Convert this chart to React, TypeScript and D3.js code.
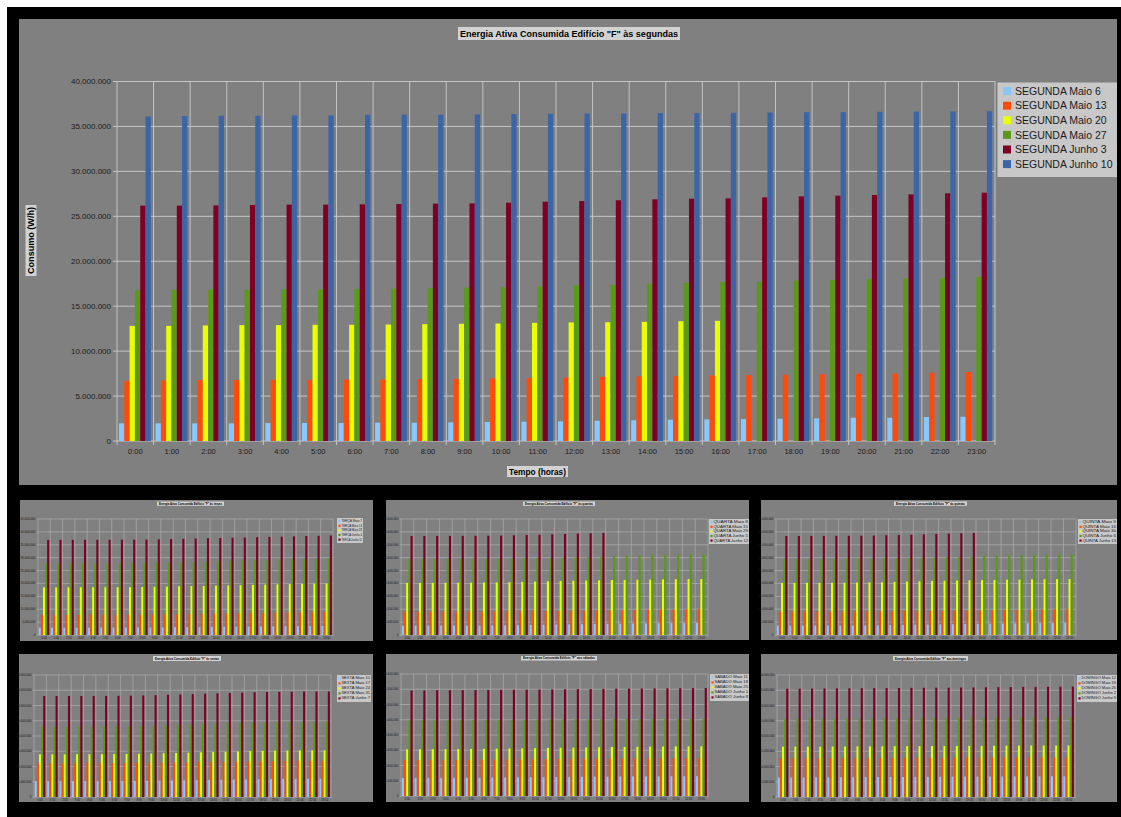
import React from "react";
import * as d3 from "d3";

// ---------- categories ----------
const HOURS = [
  "0:00", "1:00", "2:00", "3:00", "4:00", "5:00", "6:00", "7:00", "8:00", "9:00", "10:00", "11:00",
  "12:00", "13:00", "14:00", "15:00", "16:00", "17:00", "18:00", "19:00", "20:00", "21:00", "22:00", "23:00",
];

// ---------- main chart: Mondays (values in millions of W/h) ----------
const segMaio6 = [1.96, 1.96, 1.96, 1.96, 2.0, 2.0, 2.0, 2.04, 2.04, 2.07, 2.11, 2.15, 2.19, 2.26, 2.3, 2.37, 2.41, 2.44, 2.48, 2.52, 2.59, 2.59, 2.67, 2.7];
const segMaio13 = [6.7, 6.74, 6.78, 6.78, 6.81, 6.81, 6.85, 6.85, 6.89, 6.93, 6.96, 7.0, 7.07, 7.15, 7.19, 7.22, 7.3, 7.33, 7.37, 7.44, 7.48, 7.52, 7.59, 7.67];
const segMaio20 = [12.81, 12.81, 12.85, 12.89, 12.89, 12.93, 12.93, 12.96, 13.0, 13.04, 13.07, 13.15, 13.19, 13.22, 13.26, 13.33, 13.37, null, null, null, null, null, null, null];
const segMaio27 = [16.78, 16.81, 16.85, 16.85, 16.89, 16.89, 16.93, 16.96, 17.0, 17.07, 17.11, 17.19, 17.33, 17.37, 17.52, 17.59, 17.7, 17.74, 17.85, 17.93, 18.0, 18.07, 18.15, 18.26];
const segJunho3 = [26.19, 26.19, 26.22, 26.26, 26.3, 26.3, 26.33, 26.37, 26.41, 26.44, 26.52, 26.63, 26.7, 26.78, 26.89, 26.96, 27.0, 27.11, 27.22, 27.3, 27.37, 27.44, 27.56, 27.63];
const segJunho10 = [36.11, 36.15, 36.19, 36.19, 36.22, 36.22, 36.3, 36.3, 36.3, 36.33, 36.37, 36.41, 36.44, 36.44, 36.48, 36.48, 36.52, 36.56, 36.59, 36.59, 36.63, 36.67, 36.67, 36.7];
const segNames = ["SEGUNDA Maio 6", "SEGUNDA Maio 13", "SEGUNDA Maio 20", "SEGUNDA Maio 27", "SEGUNDA Junho 3", "SEGUNDA Junho 10"];

// ---------- Tuesdays ----------
const terMaio7 = [2.85, 2.85, 2.86, 2.86, 2.87, 2.88, 2.89, 2.9, 2.92, 2.95, 2.99, 3.03, 3.07, 3.11, 3.15, 3.19, 3.23, 3.28, 3.32, 3.36, 3.4, 3.43, 3.46, 3.49];
const terMaio14 = [7.76, 7.77, 7.78, 7.79, 7.8, 7.81, 7.83, 7.85, 7.88, 7.94, 8.01, 8.08, 8.15, 8.22, 8.29, 8.36, 8.44, 8.52, 8.6, 8.67, 8.73, 8.79, 8.84, 8.9];
const terMaio28 = [18.5, 18.51, 18.52, 18.53, 18.54, 18.55, 18.56, 18.58, 18.62, 18.7, 18.79, 18.88, 18.97, 19.06, 19.15, 19.25, 19.35, 19.45, 19.55, 19.65, 19.75, 19.84, 19.92, 20.0];
const terJunho4 = [27.8, 27.81, 27.82, 27.83, 27.84, 27.85, 27.87, 27.9, 27.95, 28.05, 28.17, 28.3, 28.42, 28.55, 28.67, 28.8, 28.93, 29.05, 29.18, 29.3, 29.42, 29.55, 29.67, 29.8];
const terJunho11 = [36.9, 36.91, 36.92, 36.93, 36.94, 36.95, 36.97, 37.0, 37.05, 37.13, 37.23, 37.33, 37.43, 37.53, 37.63, 37.73, 37.83, 37.94, 38.05, 38.16, 38.27, 38.38, 38.49, 38.6];
const terNames = ["TERÇA Maio 7", "TERÇA Maio 14", "TERÇA Maio 28", "TERÇA Junho 4", "TERÇA Junho 11"];

// ---------- Wednesdays ----------
const quaMaio8 = [3.62, 3.63, 3.64, 3.65, 3.66, 3.67, 3.69, 3.72, 3.77, 3.83, 3.9, 3.97, 4.04, 4.11, 4.19, 4.27, 4.33, 4.39, 4.45, 4.5, 4.55, 4.59, 4.63, 4.66];
const quaMaio15 = [9.05, 9.06, 9.07, 9.08, 9.09, 9.1, 9.12, 9.14, 9.17, 9.21, 9.25, 9.29, 9.33, 9.36, 9.39, 9.42, 9.5, 9.6, 9.7, 9.8, 9.88, 9.95, 10.02, 10.09];
const quaMaio29 = [20.2, 20.22, 20.24, 20.26, 20.28, 20.3, 20.34, 20.4, 20.48, 20.6, 20.72, 20.85, 20.98, 21.06, 21.14, 21.22, 21.3, 21.38, 21.45, 21.52, 21.58, 21.63, 21.67, 21.7];
const quaJunho5 = [29.5, 29.52, 29.54, 29.56, 29.58, 29.6, 29.62, 29.65, 29.7, 29.75, 29.8, 29.85, 29.95, 30.1, 30.25, 30.4, 30.7, 30.85, 30.98, 31.08, 31.18, 31.26, 31.33, 31.4];
const quaJunho12 = [38.4, 38.42, 38.44, 38.46, 38.48, 38.5, 38.53, 38.58, 38.66, 38.78, 38.92, 39.06, 39.2, 39.34, 39.47, 39.6, null, null, null, null, null, null, null, null];
const quaNames = ["QUARTA Maio 8", "QUARTA Maio 15", "QUARTA Maio 29", "QUARTA Junho 5", "QUARTA Junho 12"];

// ---------- Thursdays (the picture shows the same bars as Wednesday) ----------
const quiNames = ["QUINTA Maio 9", "QUINTA Maio 16", "QUINTA Maio 30", "QUINTA Junho 6", "QUINTA Junho 13"];

// ---------- Fridays ----------
const sexMaio10 = [5.15, 5.15, 5.16, 5.17, 5.18, 5.19, 5.2, 5.22, 5.26, 5.31, 5.37, 5.43, 5.49, 5.55, 5.61, 5.67, 5.73, 5.78, 5.83, 5.87, 5.91, 5.94, 5.97, 6.0];
const sexMaio17 = [11.07, 11.08, 11.09, 11.1, 11.11, 11.12, 11.13, 11.15, 11.19, 11.25, 11.31, 11.37, 11.43, 11.49, 11.55, 11.61, 11.67, 11.72, 11.77, 11.81, 11.84, 11.87, 11.89, 11.9];
const sexMaio24 = [14.0, 14.01, 14.02, 14.03, 14.04, 14.05, 14.07, 14.1, 14.16, 14.25, 14.35, 14.45, 14.55, 14.65, 14.75, 14.85, 14.95, 15.04, 15.12, 15.18, 15.23, 15.27, 15.29, 15.3];
const sexMaio31 = [23.0, 23.01, 23.02, 23.03, 23.05, 23.07, 23.1, 23.15, 23.24, 23.36, 23.5, 23.64, 23.78, 23.92, 24.06, 24.2, 24.34, 24.46, 24.56, 24.64, 24.7, 24.75, 24.78, 24.8];
const sexJunho7 = [33.1, 33.11, 33.12, 33.13, 33.14, 33.16, 33.19, 33.23, 33.3, 33.4, 33.52, 33.64, 33.76, 33.88, 34.0, 34.12, 34.24, 34.34, 34.42, 34.48, 34.53, 34.57, 34.59, 34.6];
const sexNames = ["SEXTA Maio 10", "SEXTA Maio 17", "SEXTA Maio 24", "SEXTA Maio 31", "SEXTA Junho 7"];

// ---------- Saturdays ----------
const sabMaio11 = [5.9, 5.91, 5.92, 5.94, 5.96, 5.98, 6.0, 6.03, 6.06, 6.1, 6.14, 6.18, 6.22, 6.26, 6.29, 6.32, 6.35, 6.38, 6.4, 6.42, 6.44, 6.46, 6.48, 6.5];
const sabMaio18 = [11.8, 11.81, 11.82, 11.84, 11.86, 11.88, 11.9, 11.93, 11.96, 12.0, 12.04, 12.08, 12.12, 12.16, 12.19, 12.22, 12.25, 12.28, 12.3, 12.32, 12.34, 12.36, 12.38, 12.4];
const sabMaio25 = [15.3, 15.32, 15.34, 15.37, 15.4, 15.44, 15.48, 15.53, 15.58, 15.64, 15.7, 15.76, 15.82, 15.88, 15.94, 16.0, 16.06, 16.11, 16.16, 16.2, 16.24, 16.27, 16.29, 16.3];
const sabJunho1 = [24.8, 24.81, 24.82, 24.84, 24.86, 24.88, 24.9, 24.93, 24.96, 25.0, 25.04, 25.08, 25.12, 25.16, 25.19, 25.22, 25.25, 25.28, 25.3, 25.32, 25.34, 25.36, 25.38, 25.4];
const sabJunho8 = [34.6, 34.62, 34.64, 34.67, 34.7, 34.73, 34.76, 34.8, 34.84, 34.88, 34.92, 34.96, 35.0, 35.04, 35.08, 35.12, 35.16, 35.2, 35.24, 35.28, 35.31, 35.34, 35.37, 35.4];
const sabNames = ["SÁBADO Maio 11", "SÁBADO Maio 18", "SÁBADO Maio 25", "SÁBADO Junho 1", "SÁBADO Junho 8"];

// ---------- Sundays ----------
const domMaio12 = [6.4, 6.41, 6.42, 6.43, 6.45, 6.47, 6.49, 6.51, 6.53, 6.55, 6.57, 6.59, 6.61, 6.63, 6.65, 6.67, 6.69, 6.71, 6.73, 6.75, 6.76, 6.77, 6.79, 6.8];
const domMaio19 = [12.65, 12.66, 12.67, 12.68, 12.7, 12.71, 12.73, 12.74, 12.76, 12.78, 12.8, 12.81, 12.83, 12.85, 12.87, 12.88, 12.9, 12.92, 12.93, 12.95, 12.96, 12.97, 12.99, 13.0];
const domMaio26 = [16.5, 16.51, 16.52, 16.53, 16.55, 16.57, 16.59, 16.61, 16.63, 16.65, 16.67, 16.69, 16.71, 16.73, 16.75, 16.77, 16.79, 16.81, 16.83, 16.85, 16.86, 16.87, 16.89, 16.9];
const domJunho2 = [25.6, 25.62, 25.64, 25.66, 25.68, 25.7, 25.73, 25.76, 25.79, 25.82, 25.85, 25.88, 25.91, 25.94, 25.97, 26.0, 26.03, 26.06, 26.09, 26.12, 26.14, 26.16, 26.18, 26.2];
const domJunho9 = [35.5, 35.52, 35.55, 35.58, 35.61, 35.64, 35.67, 35.7, 35.73, 35.76, 35.79, 35.82, 35.85, 35.88, 35.91, 35.94, 35.97, 36.0, 36.04, 36.08, 36.11, 36.14, 36.17, 36.2];
const domNames = ["DOMINGO Maio 12", "DOMINGO Maio 19", "DOMINGO Maio 26", "DOMINGO Junho 2", "DOMINGO Junho 9"];

const UNIT = 1000000; // values above are in millions of W/h

// ---------- styles ----------
const COLORS = ["#86c8ff", "#ff4a0a", "#e8ff00", "#5a9a18", "#7f0025", "#3a66a8"];
const PANEL = "#808080";
const GRID = "#c4c4c4";
const BOXBG = "#d2d2d2";
const LEGBG = "#c8c8c8";
const TEXT = "#1b1b1b";
const FONT = "'Liberation Sans', Arial, sans-serif";

type Rect = { x0: number; y0: number; x1: number; y1: number };
type Series = (number | null)[];

interface ChartProps {
  panel: Rect;
  plot: Rect;
  legend: Rect;
  title: string;
  titleBox: Rect;
  titleFont: number;
  names: string[];
  series: Series[];
  yMax: number;
  yStep: number;
  yFont: number;
  xFont: number;
  legendFont: number;
  legendRow0: number;
  legendRowH: number;
  swatch: number;
  swatchX: number;
  textX: number;
  tickLen: number;
  yLabelGap: number;
  xLabelDy: number;
  gridW: number;
  gridColor: string;
  fitLegend?: boolean;
  yTitle?: { text: string; box: Rect; font: number };
  xTitle?: { text: string; box: Rect; font: number };
}

const fmt = (v: number) => d3.format(",")(Math.round(v * UNIT)).replace(/,/g, ".");

function BarChart(p: ChartProps) {
  const { plot } = p;
  const x0 = d3.scaleBand<string>().domain(HOURS).range([plot.x0, plot.x1]).paddingInner(0).paddingOuter(0);
  const x1 = d3.scaleBand<string>().domain(p.names).range([0, x0.bandwidth()]).paddingInner(0).paddingOuter(0.45).align(0.42);
  const y = d3.scaleLinear().domain([0, p.yMax]).range([plot.y1, plot.y0]);
  const ticks = d3.range(0, p.yMax + p.yStep / 2, p.yStep);
  const bounds = HOURS.map((h) => x0(h) as number).concat([plot.x1]);
  const tb = p.titleBox;
  const lg = p.legend;
  return (
    <g fontFamily={FONT}>
      <rect x={p.panel.x0} y={p.panel.y0} width={p.panel.x1 - p.panel.x0} height={p.panel.y1 - p.panel.y0} fill={PANEL} />
      {ticks.map((t) => (
        <line key={"h" + t} x1={plot.x0 - p.tickLen} x2={plot.x1} y1={y(t)} y2={y(t)} stroke={p.gridColor} strokeWidth={p.gridW} />
      ))}
      {bounds.map((bx, i) => (
        <line key={"v" + i} x1={bx} x2={bx} y1={plot.y0} y2={plot.y1 + p.tickLen} stroke={p.gridColor} strokeWidth={p.gridW} />
      ))}
      {p.series.map((vals, si) =>
        vals.map((v, i) =>
          v == null ? null : (
            <rect
              key={si + "-" + i}
              x={(x0(HOURS[i]) as number) + (x1(p.names[si]) as number)}
              y={y(v)}
              width={x1.bandwidth()}
              height={y(0) - y(v)}
              fill={COLORS[si]}
            />
          )
        )
      )}
      {ticks.map((t) => (
        <text key={"yl" + t} x={plot.x0 - p.yLabelGap} y={y(t)} dy="0.35em" textAnchor="end" fontSize={p.yFont} fill={TEXT}>
          {fmt(t)}
        </text>
      ))}
      {HOURS.map((h) => (
        <text key={"xl" + h} x={(x0(h) as number) + x0.bandwidth() / 2} y={plot.y1 + p.xLabelDy} textAnchor="middle" fontSize={p.xFont} fill={TEXT}>
          {h}
        </text>
      ))}
      <rect x={lg.x0} y={lg.y0} width={lg.x1 - lg.x0} height={lg.y1 - lg.y0} fill={LEGBG} />
      {p.names.map((n, i) => {
        const cy = lg.y0 + p.legendRow0 + i * p.legendRowH;
        return (
          <g key={"lg" + n}>
            <rect x={lg.x0 + p.swatchX} y={cy - p.swatch / 2} width={p.swatch} height={p.swatch} fill={COLORS[i]} />
            <text
              x={lg.x0 + p.textX}
              y={cy}
              dy="0.36em"
              fontSize={p.legendFont}
              fill={TEXT}
              textLength={p.fitLegend ? lg.x1 - lg.x0 - p.textX - 1 : undefined}
              lengthAdjust="spacingAndGlyphs"
            >
              {n}
            </text>
          </g>
        );
      })}
      <rect x={tb.x0} y={tb.y0} width={tb.x1 - tb.x0} height={tb.y1 - tb.y0} fill={BOXBG} />
      <text
        x={(tb.x0 + tb.x1) / 2}
        y={(tb.y0 + tb.y1) / 2}
        dy="0.36em"
        textAnchor="middle"
        fontSize={p.titleFont}
        fontWeight="bold"
        fill="#000"
        textLength={tb.x1 - tb.x0 - 4}
        lengthAdjust="spacingAndGlyphs"
      >
        {p.title}
      </text>
      {p.yTitle && (
        <g>
          <rect x={p.yTitle.box.x0} y={p.yTitle.box.y0} width={p.yTitle.box.x1 - p.yTitle.box.x0} height={p.yTitle.box.y1 - p.yTitle.box.y0} fill={BOXBG} />
          <text
            transform={`translate(${(p.yTitle.box.x0 + p.yTitle.box.x1) / 2},${(p.yTitle.box.y0 + p.yTitle.box.y1) / 2}) rotate(-90)`}
            dy="0.36em"
            textAnchor="middle"
            fontSize={p.yTitle.font}
            fontWeight="bold"
            fill="#000"
            textLength={p.yTitle.box.y1 - p.yTitle.box.y0 - 4}
            lengthAdjust="spacingAndGlyphs"
          >
            {p.yTitle.text}
          </text>
        </g>
      )}
      {p.xTitle && (
        <g>
          <rect x={p.xTitle.box.x0} y={p.xTitle.box.y0} width={p.xTitle.box.x1 - p.xTitle.box.x0} height={p.xTitle.box.y1 - p.xTitle.box.y0} fill={BOXBG} />
          <text
            x={(p.xTitle.box.x0 + p.xTitle.box.x1) / 2}
            y={(p.xTitle.box.y0 + p.xTitle.box.y1) / 2}
            dy="0.36em"
            textAnchor="middle"
            fontSize={p.xTitle.font}
            fontWeight="bold"
            fill="#000"
            textLength={p.xTitle.box.x1 - p.xTitle.box.x0 - 4}
            lengthAdjust="spacingAndGlyphs"
          >
            {p.xTitle.text}
          </text>
        </g>
      )}
    </g>
  );
}

const R = (x0: number, y0: number, x1: number, y1: number): Rect => ({ x0, y0, x1, y1 });

const smallCommon = {
  titleFont: 3.4,
  yFont: 3,
  xFont: 2.8,
  legendFont: 3,
  legendRow0: 3.2,
  legendRowH: 4.6,
  swatch: 2.2,
  swatchX: 1.4,
  textX: 4.4,
  tickLen: 1.5,
  yLabelGap: 2.6,
  xLabelDy: 3.6,
  gridW: 0.6,
  gridColor: "#b4b4b4",
  fitLegend: true,
};

export default function App() {
  return (
    <svg width={1121} height={817} style={{ position: "fixed", left: 0, top: 0, display: "block" }}>
      <rect x={0} y={0} width={1121} height={817} fill="#fff" />
      <rect x={7} y={7} width={1114} height={810} fill="#000" />

      <BarChart
        panel={R(19, 19, 1117, 485)}
        plot={R(117, 81.5, 995, 441)}
        legend={R(997.5, 82.5, 1117, 177)}
        title={'Energia Ativa Consumida Edifício "F" às segundas'}
        titleBox={R(458, 27, 680, 40)}
        titleFont={9}
        names={segNames}
        series={[segMaio6, segMaio13, segMaio20, segMaio27, segJunho3, segJunho10]}
        yMax={40}
        yStep={5}
        yFont={8}
        xFont={7.5}
        legendFont={10.5}
        legendRow0={8.6}
        legendRowH={14.6}
        swatch={8}
        swatchX={5.5}
        textX={17.5}
        tickLen={4}
        yLabelGap={6}
        xLabelDy={13}
        gridW={1}
        gridColor={GRID}
        yTitle={{ text: "Consumo (W/h)", box: R(25.5, 205, 36.5, 276), font: 8.5 }}
        xTitle={{ text: "Tempo (horas)", box: R(507, 466, 568, 477), font: 8.5 }}
      />

      <BarChart
        {...smallCommon}
        panel={R(20, 500, 373, 641)}
        plot={R(38, 519, 333, 635)}
        legend={R(337, 518, 363, 543)}
        title={'Energia Ativa Consumida Edifício "F" às terças'}
        titleBox={R(157, 501.5, 224, 505.8)}
        names={terNames}
        series={[terMaio7, terMaio14, terMaio28, terJunho4, terJunho11]}
        yMax={45}
        yStep={5}
      />
      <BarChart
        {...smallCommon}
        panel={R(386, 500, 749, 640)}
        plot={R(401, 519, 708, 635)}
        legend={R(709, 519, 749, 544)}
        title={'Energia Ativa Consumida Edifício "F" às quartas'}
        titleBox={R(523, 501.5, 595, 505.8)}
        names={quaNames}
        series={[quaMaio8, quaMaio15, quaMaio29, quaJunho5, quaJunho12]}
        yMax={45}
        yStep={5}
      />
      <BarChart
        {...smallCommon}
        panel={R(761, 500, 1117, 640)}
        plot={R(776, 519, 1076, 635)}
        legend={R(1078, 519, 1117, 544)}
        title={'Energia Ativa Consumida Edifício "F" às quintas'}
        titleBox={R(894, 501.5, 967, 505.8)}
        names={quiNames}
        series={[quaMaio8, quaMaio15, quaMaio29, quaJunho5, quaJunho12]}
        yMax={45}
        yStep={5}
      />

      <BarChart
        {...smallCommon}
        panel={R(19, 654, 373, 802)}
        plot={R(34, 675, 331, 797)}
        legend={R(337, 675, 371, 702)}
        title={'Energia Ativa Consumida Edifício "F" às sextas'}
        titleBox={R(153, 656, 221, 661)}
        names={sexNames}
        series={[sexMaio10, sexMaio17, sexMaio24, sexMaio31, sexJunho7]}
        yMax={40}
        yStep={5}
        legendRow0={3.4}
        legendRowH={5}
      />
      <BarChart
        {...smallCommon}
        panel={R(386, 654, 749, 802)}
        plot={R(401, 674, 708, 796)}
        legend={R(710, 674, 749, 701)}
        title={'Energia Ativa Consumida Edifício "F" aos sábados'}
        titleBox={R(521, 656, 597, 660.5)}
        names={sabNames}
        series={[sabMaio11, sabMaio18, sabMaio25, sabJunho1, sabJunho8]}
        yMax={40}
        yStep={5}
        legendRow0={3.4}
        legendRowH={5}
      />
      <BarChart
        {...smallCommon}
        panel={R(761, 654, 1117, 802)}
        plot={R(777, 675, 1075, 797)}
        legend={R(1077, 675, 1117, 702)}
        title={'Energia Ativa Consumida Edifício "F" aos domingos'}
        titleBox={R(893, 656, 968, 660.7)}
        names={domNames}
        series={[domMaio12, domMaio19, domMaio26, domJunho2, domJunho9]}
        yMax={40}
        yStep={5}
        legendRow0={3.4}
        legendRowH={5}
      />
    </svg>
  );
}
